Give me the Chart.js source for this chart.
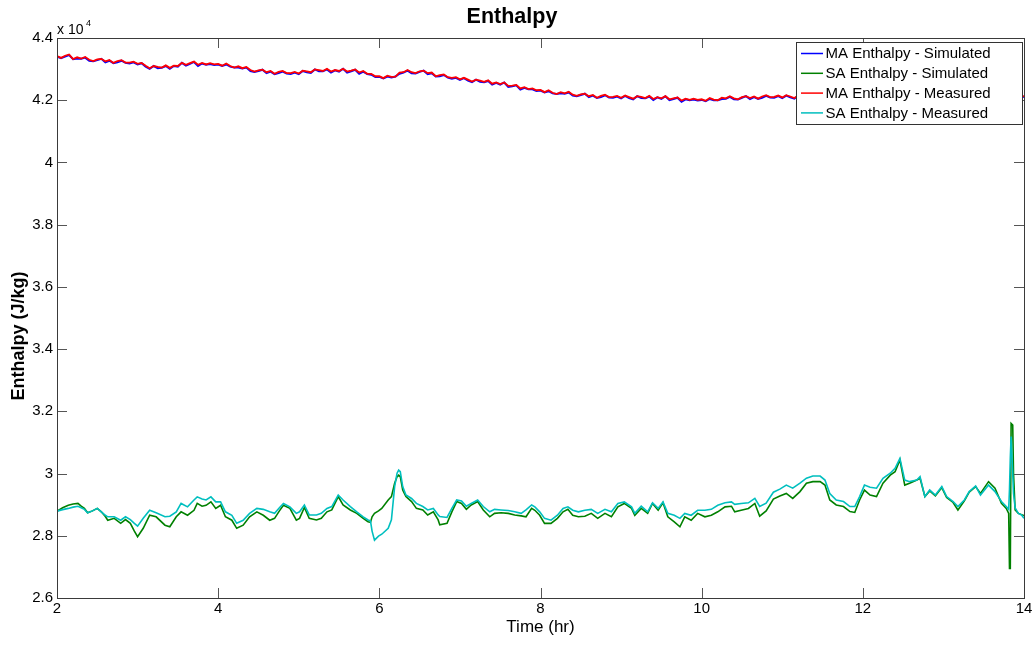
<!DOCTYPE html>
<html>
<head>
<meta charset="utf-8">
<title>Enthalpy</title>
<script src="https://cdn.jsdelivr.net/npm/chart.js@4/dist/chart.umd.min.js"></script>
<style>
  html, body { margin: 0; padding: 0; background: #fff; }
  canvas { display: block; }
</style>
</head>
<body>
<canvas id="c" width="1036" height="645"></canvas>
<script>
//Data (enthalpy in units of 10^4 J/kg, time in hours)
    //Axis ticks
        var xTicks = [2, 4, 6, 8, 10, 12, 14];
        var yTicks = [2.6, 2.8, 3, 3.2, 3.4, 3.6, 3.8, 4, 4.2, 4.4];
    //Legend names
        var names = ["MA Enthalpy - Simulated", "SA Enthalpy - Simulated",
            "MA Enthalpy - Measured", "SA Enthalpy - Measured"];
        var colors = ["#0000ff", "#008000", "#ff0000", "#00bfbf"];
    //MA series: one value every 0.05 hr starting at 2 hr
        var maStart = 2, maStep = 0.05;
        var maMeas = [
            4.342, 4.336, 4.343, 4.347, 4.332, 4.338, 4.334, 4.339, 4.330, 4.326, 4.331, 4.333, 4.325, 4.329, 4.320, 4.326, 4.329, 4.321, 4.321, 4.324,
            4.317, 4.320, 4.311, 4.303, 4.310, 4.307, 4.305, 4.312, 4.304, 4.311, 4.310, 4.320, 4.314, 4.319, 4.324, 4.314, 4.320, 4.315, 4.319, 4.315,
            4.317, 4.311, 4.318, 4.310, 4.305, 4.309, 4.303, 4.307, 4.297, 4.292, 4.296, 4.298, 4.290, 4.294, 4.285, 4.291, 4.294, 4.287, 4.287, 4.291,
            4.286, 4.295, 4.293, 4.290, 4.299, 4.297, 4.294, 4.301, 4.292, 4.297, 4.294, 4.301, 4.292, 4.295, 4.299, 4.289, 4.294, 4.285, 4.285, 4.277,
            4.277, 4.271, 4.279, 4.275, 4.276, 4.289, 4.290, 4.297, 4.290, 4.287, 4.293, 4.295, 4.287, 4.289, 4.277, 4.281, 4.283, 4.274, 4.272, 4.274,
            4.267, 4.272, 4.266, 4.260, 4.266, 4.263, 4.259, 4.264, 4.253, 4.257, 4.252, 4.257, 4.246, 4.247, 4.249, 4.238, 4.242, 4.236, 4.238, 4.232,
            4.233, 4.226, 4.232, 4.224, 4.220, 4.226, 4.222, 4.227, 4.218, 4.214, 4.219, 4.221, 4.213, 4.217, 4.208, 4.214, 4.218, 4.210, 4.211, 4.214,
            4.208, 4.215, 4.210, 4.205, 4.213, 4.211, 4.207, 4.214, 4.204, 4.210, 4.206, 4.213, 4.203, 4.206, 4.209, 4.199, 4.205, 4.201, 4.205, 4.201,
            4.203, 4.198, 4.207, 4.202, 4.200, 4.208, 4.206, 4.213, 4.206, 4.203, 4.210, 4.213, 4.207, 4.212, 4.205, 4.212, 4.216, 4.210, 4.211, 4.215,
            4.209, 4.216, 4.212, 4.207, 4.215, 4.213, 4.210, 4.217, 4.208, 4.214, 4.211, 4.218, 4.209, 4.212, 4.216, 4.207, 4.214, 4.210, 4.215, 4.211,
            4.214, 4.209, 4.217, 4.211, 4.208, 4.215, 4.212, 4.218, 4.210, 4.207, 4.213, 4.216, 4.209, 4.214, 4.206, 4.213, 4.217, 4.210, 4.211, 4.215,
            4.209, 4.216, 4.212, 4.207, 4.215, 4.213, 4.210, 4.217, 4.208, 4.214, 4.211, 4.218, 4.209, 4.212, 4.216, 4.207, 4.214, 4.210, 4.215, 4.211,
            4.213
        ];
        var maSim = [
            4.340, 4.335, 4.340, 4.345, 4.332, 4.334, 4.333, 4.337, 4.327, 4.325, 4.329, 4.333, 4.322, 4.327, 4.319, 4.322, 4.327, 4.320, 4.318, 4.322,
            4.315, 4.319, 4.308, 4.301, 4.310, 4.303, 4.304, 4.310, 4.301, 4.310, 4.308, 4.320, 4.311, 4.317, 4.323, 4.310, 4.318, 4.314, 4.316, 4.313,
            4.315, 4.310, 4.315, 4.308, 4.305, 4.305, 4.302, 4.305, 4.294, 4.291, 4.294, 4.298, 4.287, 4.292, 4.284, 4.287, 4.292, 4.286, 4.284, 4.289,
            4.284, 4.294, 4.290, 4.288, 4.299, 4.293, 4.293, 4.299, 4.289, 4.296, 4.292, 4.301, 4.289, 4.293, 4.298, 4.285, 4.292, 4.284, 4.282, 4.275,
            4.275, 4.270, 4.276, 4.273, 4.276, 4.285, 4.289, 4.295, 4.287, 4.286, 4.291, 4.295, 4.284, 4.287, 4.276, 4.277, 4.281, 4.273, 4.269, 4.272,
            4.265, 4.271, 4.263, 4.258, 4.266, 4.259, 4.258, 4.262, 4.250, 4.256, 4.250, 4.257, 4.243, 4.245, 4.248, 4.234, 4.240, 4.235, 4.235, 4.230,
            4.231, 4.225, 4.229, 4.222, 4.220, 4.222, 4.221, 4.225, 4.215, 4.213, 4.217, 4.221, 4.210, 4.215, 4.207, 4.210, 4.216, 4.209, 4.208, 4.212,
            4.206, 4.214, 4.207, 4.203, 4.213, 4.207, 4.206, 4.212, 4.201, 4.209, 4.204, 4.213, 4.200, 4.204, 4.208, 4.195, 4.203, 4.200, 4.202, 4.199,
            4.201, 4.197, 4.204, 4.200, 4.200, 4.204, 4.205, 4.211, 4.203, 4.202, 4.208, 4.213, 4.204, 4.210, 4.204, 4.208, 4.214, 4.209, 4.208, 4.213,
            4.207, 4.215, 4.209, 4.205, 4.215, 4.209, 4.209, 4.215, 4.205, 4.213, 4.209, 4.218, 4.206, 4.210, 4.215, 4.203, 4.212, 4.209, 4.212, 4.209,
            4.212, 4.208, 4.214, 4.209, 4.208, 4.211, 4.211, 4.216, 4.207, 4.206, 4.211, 4.216, 4.206, 4.212, 4.205, 4.209, 4.215, 4.209, 4.208, 4.213,
            4.207, 4.215, 4.209, 4.205, 4.215, 4.209, 4.209, 4.215, 4.205, 4.213, 4.209, 4.218, 4.206, 4.210, 4.215, 4.203, 4.212, 4.209, 4.212, 4.209,
            4.211
        ];
    //SA series: read at uneven times
        var saTime = [
            2.00, 2.07, 2.14, 2.20, 2.26, 2.30, 2.34, 2.38, 2.44, 2.50, 2.55, 2.60, 2.63, 2.71, 2.79, 2.85, 2.91, 2.96, 3.00, 3.07, 3.15, 3.23, 3.34, 3.40, 3.48, 3.54, 3.62, 3.70, 3.74, 3.80, 3.85, 3.91, 3.97,
            4.03, 4.09, 4.17, 4.23, 4.31, 4.39, 4.48, 4.56, 4.64, 4.70, 4.76, 4.81, 4.89, 4.97, 5.01, 5.07, 5.13, 5.22, 5.28, 5.35, 5.41, 5.49, 5.55, 5.64, 5.72, 5.80, 5.86, 5.89, 5.91, 5.94, 5.99,
            6.03, 6.11, 6.15, 6.19, 6.22, 6.24, 6.26, 6.29, 6.33, 6.40, 6.46, 6.54, 6.60, 6.67, 6.73, 6.75, 6.84, 6.90, 6.96, 7.02, 7.08, 7.14, 7.22, 7.29, 7.37, 7.43, 7.51, 7.60, 7.68, 7.76, 7.82, 7.89, 7.93, 7.99,
            8.05, 8.13, 8.21, 8.28, 8.34, 8.40, 8.47, 8.55, 8.63, 8.71, 8.80, 8.88, 8.96, 9.04, 9.13, 9.17, 9.25, 9.33, 9.39, 9.46, 9.52, 9.58, 9.66, 9.73, 9.79, 9.87, 9.95,
            10.04, 10.12, 10.20, 10.29, 10.37, 10.41, 10.49, 10.58, 10.66, 10.72, 10.80, 10.89, 10.97, 11.05, 11.13, 11.22, 11.30, 11.38, 11.47, 11.53, 11.59, 11.67, 11.76, 11.84, 11.90, 11.96,
            12.02, 12.09, 12.17, 12.25, 12.34, 12.40, 12.46, 12.52, 12.58, 12.67, 12.71, 12.77, 12.83, 12.90, 12.98, 13.04, 13.12, 13.18, 13.26, 13.32, 13.40, 13.46, 13.56, 13.64, 13.72, 13.78, 13.81, 13.82, 13.83, 13.84, 13.86, 13.87, 13.89, 13.93, 13.97, 14.00
        ];
        var saSim = [
            2.879, 2.890, 2.898, 2.902, 2.904, 2.895, 2.888, 2.874, 2.880, 2.888, 2.877, 2.862, 2.850, 2.856, 2.840, 2.852, 2.840, 2.815, 2.797, 2.824, 2.866, 2.861, 2.834, 2.829, 2.861, 2.877, 2.866, 2.882, 2.904, 2.895, 2.898, 2.909, 2.888,
            2.898, 2.861, 2.850, 2.824, 2.834, 2.861, 2.877, 2.866, 2.850, 2.856, 2.880, 2.898, 2.888, 2.850, 2.856, 2.891, 2.856, 2.851, 2.856, 2.877, 2.883, 2.926, 2.899, 2.883, 2.872, 2.856, 2.845, 2.843, 2.861, 2.872, 2.880,
            2.888, 2.915, 2.926, 2.969, 2.990, 2.995, 2.990, 2.947, 2.926, 2.910, 2.888, 2.883, 2.867, 2.877, 2.851, 2.835, 2.840, 2.877, 2.910, 2.904, 2.885, 2.899, 2.910, 2.883, 2.861, 2.872, 2.874, 2.872, 2.867, 2.864, 2.861, 2.888, 2.882, 2.866,
            2.840, 2.840, 2.856, 2.877, 2.885, 2.866, 2.861, 2.863, 2.872, 2.856, 2.872, 2.861, 2.893, 2.904, 2.888, 2.866, 2.888, 2.872, 2.904, 2.882, 2.906, 2.861, 2.845, 2.829, 2.861, 2.850, 2.872,
            2.861, 2.866, 2.877, 2.893, 2.895, 2.877, 2.882, 2.888, 2.904, 2.863, 2.880, 2.918, 2.928, 2.936, 2.920, 2.942, 2.969, 2.974, 2.974, 2.963, 2.915, 2.899, 2.894, 2.878, 2.875, 2.915,
            2.947, 2.931, 2.926, 2.969, 2.995, 3.006, 3.044, 2.963, 2.969, 2.979, 2.985, 2.926, 2.944, 2.928, 2.955, 2.923, 2.907, 2.883, 2.912, 2.940, 2.958, 2.936, 2.974, 2.953, 2.904, 2.888, 2.872, 2.695, 2.695, 3.161, 3.156, 3.000, 2.883, 2.872, 2.868, 2.865
        ];
        var saMeas = [
            2.879, 2.884, 2.888, 2.892, 2.895, 2.890, 2.885, 2.874, 2.880, 2.888, 2.877, 2.866, 2.861, 2.861, 2.850, 2.861, 2.852, 2.840, 2.831, 2.856, 2.882, 2.874, 2.861, 2.863, 2.877, 2.904, 2.893, 2.915, 2.925, 2.918, 2.915, 2.925, 2.909,
            2.909, 2.877, 2.866, 2.840, 2.850, 2.872, 2.888, 2.885, 2.877, 2.872, 2.890, 2.904, 2.893, 2.872, 2.877, 2.899, 2.867, 2.867, 2.872, 2.888, 2.894, 2.931, 2.915, 2.894, 2.877, 2.861, 2.851, 2.848, 2.815, 2.786, 2.799,
            2.805, 2.824, 2.851, 2.958, 3.001, 3.011, 3.006, 2.958, 2.931, 2.920, 2.904, 2.894, 2.883, 2.888, 2.867, 2.862, 2.859, 2.888, 2.915, 2.912, 2.895, 2.904, 2.915, 2.894, 2.877, 2.885, 2.883, 2.881, 2.877, 2.872, 2.883, 2.899, 2.893, 2.877,
            2.856, 2.850, 2.866, 2.888, 2.893, 2.882, 2.877, 2.882, 2.885, 2.872, 2.885, 2.877, 2.904, 2.909, 2.893, 2.872, 2.895, 2.877, 2.906, 2.888, 2.909, 2.872, 2.866, 2.856, 2.872, 2.866, 2.882,
            2.882, 2.885, 2.898, 2.906, 2.909, 2.901, 2.904, 2.906, 2.920, 2.894, 2.905, 2.940, 2.950, 2.963, 2.953, 2.969, 2.985, 2.992, 2.992, 2.979, 2.936, 2.915, 2.910, 2.894, 2.894, 2.926,
            2.963, 2.956, 2.953, 2.985, 3.001, 3.017, 3.049, 2.979, 2.974, 2.979, 2.990, 2.926, 2.947, 2.931, 2.958, 2.926, 2.910, 2.894, 2.915, 2.942, 2.960, 2.931, 2.963, 2.942, 2.910, 2.894, 2.885, 2.950, 3.050, 3.119, 3.000, 2.936, 2.890, 2.872, 2.867, 2.856
        ];

//Building the {x, y} points
    function maPoints(vals){
        var pts = [];
        for(var i = 0; i < vals.length; i++)
            pts.push({x: maStart + i * maStep, y: vals[i]});
        return pts;
    }
    function saPoints(vals){
        var pts = [];
        for(var i = 0; i < vals.length; i++)
            pts.push({x: saTime[i], y: vals[i]});
        return pts;
    }

var fam = "'Liberation Sans', Arial, Helvetica, sans-serif";

//MATLAB style box, inner ticks, legend and extra labels
    var decor = {
        id: "decor",
        afterDatasetsDraw: function(chart){
            var ctx = chart.ctx, a = chart.chartArea;
            var sx = chart.scales.x, sy = chart.scales.y;
            ctx.save();
            //inner ticks
                ctx.strokeStyle = "#555";
                ctx.lineWidth = 1;
                ctx.beginPath();
                xTicks.forEach(function(v){
                    var px = Math.round(sx.getPixelForValue(v)) + 0.5;
                    ctx.moveTo(px, a.bottom); ctx.lineTo(px, a.bottom - 10);
                    ctx.moveTo(px, a.top); ctx.lineTo(px, a.top + 10);
                });
                yTicks.forEach(function(v){
                    var py = Math.round(sy.getPixelForValue(v)) + 0.5;
                    ctx.moveTo(a.left, py); ctx.lineTo(a.left + 10, py);
                    ctx.moveTo(a.right, py); ctx.lineTo(a.right - 10, py);
                });
                ctx.stroke();
            //box
                ctx.strokeStyle = "#3a3a3a";
                ctx.strokeRect(Math.round(a.left) + 0.5, Math.round(a.top) + 0.5,
                    Math.round(a.right - a.left), Math.round(a.bottom - a.top));
            //legend
                var lx = 796, ly = 42, lw = 226, lh = 82;
                ctx.fillStyle = "#fff";
                ctx.fillRect(lx, ly, lw, lh);
                ctx.strokeStyle = "#333";
                ctx.strokeRect(lx + 0.5, ly + 0.5, lw, lh);
                ctx.font = "15px " + fam;
                ctx.textBaseline = "middle";
                ctx.textAlign = "left";
                for(var i = 0; i < names.length; i++){
                    var ry = ly + 11.5 + i * 19.8;
                    ctx.strokeStyle = colors[i];
                    ctx.lineWidth = 1.5;
                    ctx.beginPath();
                    ctx.moveTo(lx + 5, ry); ctx.lineTo(lx + 27, ry);
                    ctx.stroke();
                    ctx.fillStyle = "#000";
                    ctx.fillText(names[i], lx + 29.5, ry + 0.5);
                }
            //exponent label
                ctx.fillStyle = "#000";
                ctx.textBaseline = "alphabetic";
                ctx.font = "14px " + fam;
                ctx.fillText("x 10", a.left, a.top - 4);
                ctx.font = "9px " + fam;
                ctx.fillText("4", a.left + 29, a.top - 12);
            //y axis title
                ctx.translate(19.5, 336);
                ctx.rotate(-Math.PI / 2);
                ctx.font = "bold 18px " + fam;
                ctx.textAlign = "center";
                ctx.textBaseline = "middle";
                ctx.fillText("Enthalpy (J/kg)", 0, 0);
            ctx.restore();
        }
    };

//Chart
    var ds = [
        {label: names[0], data: maPoints(maSim), borderColor: colors[0], order: 4, borderWidth: 2},
        {label: names[1], data: saPoints(saSim), borderColor: colors[1], order: 3, borderWidth: 1.6},
        {label: names[2], data: maPoints(maMeas), borderColor: colors[2], order: 2, borderWidth: 1.8},
        {label: names[3], data: saPoints(saMeas), borderColor: colors[3], order: 1, borderWidth: 1.6}
    ];
    ds.forEach(function(d){
        d.pointRadius = 0;
        d.tension = 0;
        d.fill = false;
    });

    new Chart(document.getElementById("c"), {
        type: "line",
        data: {datasets: ds},
        options: {
            responsive: false,
            animation: false,
            events: [],
            layout: {padding: {left: 0, right: 12, top: 0, bottom: 0}},
            plugins: {
                legend: {display: false},
                tooltip: {enabled: false},
                title: {
                    display: true,
                    text: "Enthalpy",
                    color: "#000",
                    font: {family: fam, size: 21.5, weight: "bold"},
                    padding: {top: 4, bottom: 8.2}
                }
            },
            scales: {
                x: {
                    type: "linear",
                    min: 2, max: 14,
                    grid: {display: false, drawTicks: false},
                    border: {display: false},
                    afterBuildTicks: function(s){ s.ticks = xTicks.map(function(v){ return {value: v}; }); },
                    afterFit: function(s){ s.height = 47; },
                    ticks: {
                        color: "#000", padding: 2,
                        font: {family: fam, size: 15},
                        maxRotation: 0,
                        callback: function(v){ return String(v); }
                    },
                    title: {
                        display: true, text: "Time (hr)", color: "#000",
                        font: {family: fam, size: 17},
                        padding: {top: 0, bottom: 7}
                    }
                },
                y: {
                    type: "linear",
                    min: 2.6, max: 4.4,
                    grid: {display: false, drawTicks: false},
                    border: {display: false},
                    afterBuildTicks: function(s){ s.ticks = yTicks.map(function(v){ return {value: v}; }); },
                    afterFit: function(s){ s.width = 57; },
                    ticks: {
                        color: "#000", padding: 4,
                        font: {family: fam, size: 15},
                        callback: function(v){ return String(Math.round(v * 10) / 10); }
                    }
                }
            }
        },
        plugins: [decor]
    });
</script>
</body>
</html>
